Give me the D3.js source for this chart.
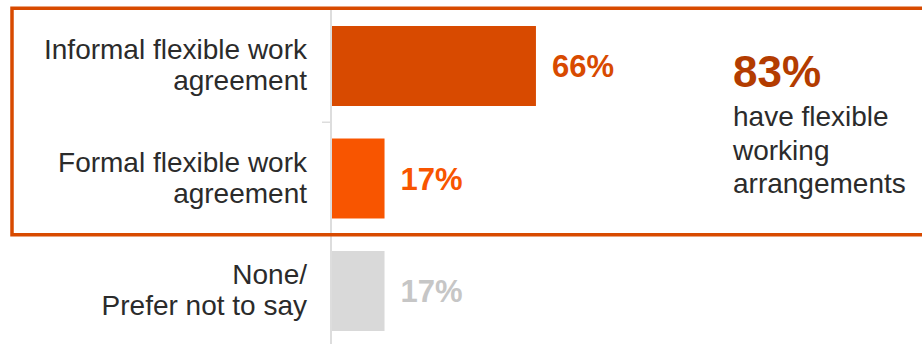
<!DOCTYPE html>
<html>
<head>
<meta charset="utf-8">
<script src="https://cdn.jsdelivr.net/npm/d3@7"></script>
<style>
    body { margin: 0; background: #fff; }
    #chart { width: 922px; height: 344px; }
    text { font-family: "Liberation Sans", Arial, sans-serif; }
</style>
</head>
<body>
<div id="chart"></div>
<script>
// data
const categories = ["informal", "formal", "none"];
const categoryLabels = [
    ["Informal flexible work", "agreement"],
    ["Formal flexible work", "agreement"],
    ["None/", "Prefer not to say"]
];
const values = [66, 17, 17];
const flexibleKeys = ["informal", "formal"];   // categories inside the highlight box
const calloutLines = ["have flexible", "working", "arrangements"];

// set the dimensions
const width = 922, height = 344;
const axisX = 331;

const svg = d3.select("#chart").append("svg")
    .attr("width", width)
    .attr("height", height);

// scales
const x = d3.scaleLinear()
    .domain([0, 100])
    .range([axisX + 1, axisX + 310]);

const y = d3.scaleBand()
    .domain(categories)
    .range([9.75, 347.25])
    .paddingInner(0.289)
    .paddingOuter(0.1445);

const color = d3.scaleOrdinal()
    .domain(categories)
    .range(["#d84a00", "#f85500", "#d9d9d9"]);

const labelColor = d3.scaleOrdinal()
    .domain(categories)
    .range(["#d84a00", "#f85500", "#c6c6c6"]);

const step = y.step();
const halfGap = (step - y.bandwidth()) / 2;

// axis line with ticks between categories
svg.append("line")
    .attr("x1", axisX).attr("x2", axisX)
    .attr("y1", y.range()[0]).attr("y2", height)
    .attr("stroke", "#dddddd")
    .attr("stroke-width", 2);

svg.append("g").selectAll("line")
    .data(categories.slice(1))
    .enter().append("line")
    .attr("x1", axisX - 9).attr("x2", axisX)
    .attr("y1", d => y(d) - halfGap)
    .attr("y2", d => y(d) - halfGap)
    .attr("stroke", "#dddddd")
    .attr("stroke-width", 1.5);

// bars
svg.append("g").selectAll("rect")
    .data(values)
    .enter().append("rect")
    .attr("x", x(0))
    .attr("y", (d, i) => y(categories[i]))
    .attr("width", d => x(d) - x(0))
    .attr("height", y.bandwidth())
    .attr("fill", (d, i) => color(categories[i]));

// value labels
svg.append("g").selectAll("text")
    .data(values)
    .enter().append("text")
    .attr("x", d => x(d) + 16)
    .attr("y", (d, i) => y(categories[i]) + y.bandwidth() / 2)
    .attr("dy", "0.36em")
    .attr("font-size", 31)
    .attr("font-weight", "bold")
    .attr("fill", (d, i) => labelColor(categories[i]))
    .text(d => d + "%");

// category labels (two lines, right aligned)
const cat = svg.append("g").selectAll("text")
    .data(categoryLabels)
    .enter().append("text")
    .attr("text-anchor", "end")
    .attr("font-size", 28)
    .attr("fill", "#2b2b2b");

cat.each(function(lines, i) {
    const cy = y(categories[i]) + y.bandwidth() / 2;
    d3.select(this).selectAll("tspan")
        .data(lines)
        .enter().append("tspan")
        .attr("x", axisX - 24)
        .attr("y", (d, j) => cy - 7 + j * 31)
        .text(d => d);
});

// highlight box around the flexible categories
const boxTop = y(flexibleKeys[0]) - halfGap;
const boxBottom = y(flexibleKeys[flexibleKeys.length - 1]) + y.bandwidth() + halfGap;
svg.append("rect")
    .attr("x", 12)
    .attr("y", boxTop - 1.5)
    .attr("width", width + 20)
    .attr("height", boxBottom - boxTop + 1.5)
    .attr("fill", "none")
    .attr("stroke", "#d84a00")
    .attr("stroke-width", 3.5);

// callout
const total = d3.sum(values.filter((d, i) => flexibleKeys.includes(categories[i])));
const callout = svg.append("g").attr("transform", "translate(733,0)");

callout.append("text")
    .attr("x", 0)
    .attr("y", 87)
    .attr("font-size", 44)
    .attr("font-weight", "bold")
    .attr("fill", "#b33c00")
    .text(total + "%");

callout.append("text")
    .attr("font-size", 28)
    .attr("fill", "#2b2b2b")
    .selectAll("tspan")
    .data(calloutLines)
    .enter().append("tspan")
    .attr("x", 0)
    .attr("y", (d, i) => 126 + i * 33.5)
    .text(d => d);
</script>
</body>
</html>
